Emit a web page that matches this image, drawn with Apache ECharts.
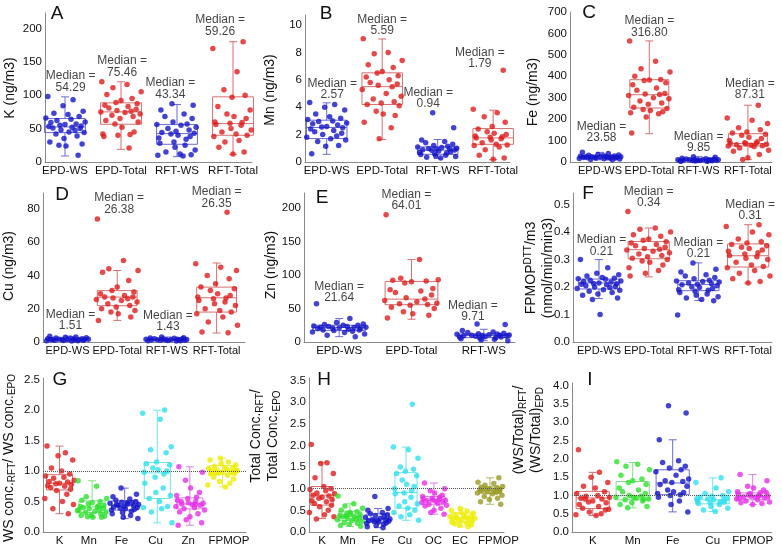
<!DOCTYPE html>
<html><head><meta charset="utf-8">
<script src="https://cdn.jsdelivr.net/npm/echarts@6/dist/echarts.min.js"></script>
<style>html,body{margin:0;padding:0;background:#fff}#c{width:782px;height:553px}</style>
</head><body><div id="c"></div>
<script>
// ---------- categories & tick labels ----------
const CAT4 = ['EPD-WS','EPD-Total','RFT-WS','RFT-Total'];
const CAT3 = ['EPD-WS','EPD-Total','RFT-WS'];
const CAT_G = ['K','Mn','Fe','Cu','Zn','FPMOP'];
const CAT_H = ['K','Mn','Fe','Cu','OC','EC','FPMOP'];
const CAT_I = ['K','Mn','Fe','Cu','FPMOP'];
const A_TICKS = [0,50,100,150,200];
const B_TICKS = [0,2,4,6,8,10];
const C_TICKS = [0,100,200,300,400,500,600,700];
const D_TICKS = [0,20,40,60,80];
const E_TICKS = [0,50,100,150,200];
const F_TICKS = [0,0.1,0.2,0.3,0.4,0.5];
const G_TICKS = [0,0.5,1,1.5,2,2.5];
const H_TICKS = [0,0.5,1,1.5,2,2.5,3,3.5];
const I_TICKS = [0,0.5,1,1.5,2,2.5,3,3.5,4];

// ---------- panel A: K ----------
const A_EPD_WS = [98,93,84,76,73,71,68,66,64,62,60,59,57,56,55,54,53,52,51,50,48,47,46,45,44,42,39,35,30,27,25,24,10];
const A_EPD_TOT = [120,116,111,105,101,95,92,89,87,85,83,81,79,77,76,75,74,72,70,68,65,62,60,57,52,45,42,41,40,38,21];
const A_RFT_WS = [87,85,78,72,68,65,60,57,56,55,52,50,48,46,44,43,42,40,38,36,34,30,28,25,22,18,15,12,11,10,9];
const A_RFT_TOT = [180,170,135,133,108,100,97,83,78,72,68,65,60,59,58,56,55,50,48,45,42,40,38,32,30,25,22,15,12];
const A_BOX = [[9,44,52.5,65,97.5],[19,56.5,75,88.5,120],[8,26.5,42.5,56,86],[11.5,40,57.5,97.5,180]];
const A_MED = ['54.29','75.46','43.34','59.26'];

// ---------- panel B: Mn ----------
const B_EPD_WS = [4.35,4.2,4.0,3.8,3.5,3.3,3.2,3.1,3.0,2.95,2.85,2.8,2.7,2.6,2.55,2.5,2.4,2.3,2.2,2.1,2.0,1.9,1.8,1.7,1.6,1.5,1.2,1.15,0.6];
const B_EPD_TOT = [9.0,8.0,7.9,7.4,7.1,6.9,6.6,6.5,6.3,6.2,6.0,5.8,5.7,5.6,5.5,5.3,5.0,4.8,4.6,4.4,4.3,4.2,4.1,3.7,3.5,3.4,2.9,2.5,1.7];
const B_RFT_WS = [3.6,2.5,1.6,1.5,1.4,1.3,1.2,1.15,1.1,1.05,1.0,0.98,0.95,0.94,0.9,0.88,0.85,0.8,0.75,0.7,0.65,0.6,0.55,0.5,0.45,0.4,0.35,0.3];
const B_RFT_TOT = [6.7,3.85,3.6,3.4,3.3,2.9,2.6,2.4,2.3,2.2,2.1,2.0,1.9,1.85,1.8,1.75,1.7,1.6,1.5,1.4,1.3,1.25,1.2,1.1,0.9,0.7,0.5,0.3,0.2];
const B_BOX = [[0.56,1.71,2.52,3.05,4.32],[1.64,4.2,5.5,6.51,8.98],[0.25,0.56,0.86,1.1,1.64],[0.17,1.29,1.76,2.44,3.78]];
const B_MED = ['2.57','5.59','0.94','1.79'];

// ---------- panel C: Fe ----------
const C_EPD_WS = [45,40,35,33,31,30,28,27,26,25,24,24,23,23,22,22,21,20,20,19,18,17,16,15,14,12,10];
const C_EPD_TOT = [565,470,435,420,400,385,383,380,370,360,345,335,320,317,315,310,300,295,285,275,270,255,250,245,240,235,230,225,210,135];
const C_RFT_WS = [25,22,18,15,14,13,12,11,11,10,10,10,9,9,8,8,7,7,6,6,5,5,4,3];
const C_RFT_TOT = [265,205,195,180,160,150,140,135,130,125,115,110,100,95,90,88,87,85,83,80,78,76,75,72,65,55,50,35,20,12];
const C_BOX = [[10,18,23.6,30,45],[132,252,314,384,565],[2,6,9.85,14,25],[11,75,86,132,265]];
const C_MED = ['23.58','316.80','9.85','87.31'];

// ---------- panel D: Cu ----------
const D_EPD_WS = [3.5,3.0,2.8,2.6,2.4,2.2,2.0,1.9,1.8,1.7,1.6,1.55,1.5,1.5,1.45,1.4,1.3,1.2,1.1,1.0,0.9,0.8,0.7,0.6];
const D_EPD_TOT = [74,49,44,43,42,37,33,31,30,29,28,27,27,26.5,26,25.5,25,24,23,22,21,20,19,18,17,15,13];
const D_RFT_WS = [3.0,2.6,2.4,2.2,2.0,1.9,1.8,1.7,1.6,1.5,1.45,1.4,1.35,1.3,1.2,1.1,1.0,0.9,0.8,0.7,0.6];
const D_RFT_TOT = [78,47,45,43,40,38,35,33,32,31,29,28,27,26.5,26,25,24,23,22,20,19,18,17,15,12,10,6,5.5];
const D_BOX = [[0.5,1.0,1.51,2.0,3.5],[13,21.8,27,30.9,43],[0.5,1.0,1.43,1.9,3.0],[5.4,18,26.6,33,47.5]];
const D_MED = ['1.51','26.38','1.43','26.35'];

// ---------- panel E: Zn ----------
const E_EPD_WS = [57,35,29,27,26,25,25,24,23,23,22,22,21.6,21,21,20,20,19,18,18,17,16,15,14,12,10,8];
const E_EPD_TOT = [190,123,95,93,92,91,90,88,80,78,76,74,70,66,64,62,60,58,57,56,55,52,50,45,42,40,36];
const E_RFT_WS = [27,26,17,15,14,13,12.5,12,11.5,11,10.5,10,10,9.7,9.5,9,8.5,8,7.5,7,6.5,6,5,4,3,2];
const E_BOX = [[8,17,21.6,25,35],[34,55.7,64,90.4,123],[2,6.5,9.7,12,19]];
const E_MED = ['21.64','64.01','9.71'];

// ---------- panel F: FPMOP DTT ----------
const F_EPD_WS = [0.30,0.27,0.25,0.245,0.24,0.235,0.232,0.23,0.228,0.225,0.222,0.22,0.218,0.215,0.213,0.212,0.21,0.208,0.205,0.202,0.2,0.198,0.195,0.19,0.188,0.185,0.18,0.175,0.17,0.16,0.155,0.10];
const F_EPD_TOT = [0.475,0.415,0.41,0.40,0.39,0.385,0.375,0.37,0.365,0.36,0.355,0.35,0.345,0.34,0.338,0.335,0.33,0.325,0.32,0.315,0.31,0.305,0.30,0.295,0.29,0.28,0.27,0.26,0.25,0.24];
const F_RFT_WS = [0.288,0.265,0.255,0.245,0.24,0.235,0.23,0.225,0.222,0.22,0.218,0.215,0.212,0.21,0.208,0.205,0.2,0.198,0.195,0.19,0.188,0.185,0.18,0.175,0.17,0.165,0.16,0.155,0.15,0.098];
const F_RFT_TOT = [0.427,0.42,0.40,0.39,0.375,0.365,0.36,0.355,0.35,0.345,0.34,0.335,0.33,0.325,0.32,0.315,0.31,0.305,0.3,0.29,0.28,0.275,0.27,0.26,0.25,0.24,0.23,0.22,0.215];
const F_BOX = [[0.158,0.193,0.215,0.229,0.30],[0.237,0.303,0.336,0.366,0.415],[0.151,0.187,0.209,0.223,0.288],[0.215,0.273,0.314,0.357,0.427]];
const F_MED = ['0.21','0.34','0.21','0.31'];

// ---------- panel G: WS ratio ----------
const G_K = [1.41,1.3,1.25,1.18,1.05,1.0,0.95,0.92,0.9,0.88,0.85,0.83,0.82,0.8,0.79,0.78,0.76,0.75,0.73,0.7,0.68,0.62,0.55,0.5,0.45,0.38,0.3];
const G_MN = [0.84,0.75,0.58,0.55,0.52,0.5,0.48,0.46,0.44,0.42,0.41,0.4,0.39,0.38,0.37,0.35,0.34,0.33,0.32,0.3,0.28,0.27,0.26,0.25,0.24,0.24,0.36,0.43];
const G_FE = [0.72,0.62,0.58,0.54,0.52,0.5,0.49,0.48,0.47,0.46,0.45,0.44,0.43,0.42,0.41,0.4,0.39,0.38,0.37,0.36,0.34,0.32,0.3,0.27,0.24,0.22,0.45,0.48];
const G_CU = [2.0,1.95,1.85,1.4,1.35,1.3,1.15,1.12,1.1,1.05,1.02,1.0,0.98,0.95,0.9,0.8,0.72,0.65,0.6,0.55,0.5,0.42,0.4,0.38,0.33,0.15];
const G_ZN = [1.07,0.98,0.85,0.72,0.65,0.6,0.57,0.55,0.52,0.5,0.48,0.47,0.46,0.45,0.44,0.42,0.4,0.38,0.36,0.33,0.3,0.25,0.2,0.15,0.11,0.45,0.5];
const G_FP = [1.21,1.18,1.15,1.12,1.1,1.08,1.06,1.05,1.04,1.03,1.02,1.01,1.0,0.99,0.98,0.97,0.96,0.95,0.93,0.9,0.87,0.83,0.8,0.77,0.74,1.0,0.97];
const G_BOX = [[0.30,0.69,0.80,0.94,1.41],[0.24,0.32,0.41,0.51,0.84],[0.22,0.36,0.43,0.51,0.72],[0.15,0.55,0.97,1.14,2.0],[0.11,0.38,0.46,0.56,1.07],[0.74,0.95,1.01,1.09,1.21]];

// ---------- panel H: Total ratio ----------
const H_K = [2.02,1.6,1.58,1.35,1.25,1.05,1.0,0.98,0.95,0.9,0.88,0.85,0.83,0.8,0.78,0.75,0.72,0.7,0.66,0.62,0.58,0.5,0.45,0.4,0.35,0.3];
const H_MN = [0.83,0.65,0.6,0.55,0.5,0.47,0.45,0.42,0.4,0.38,0.36,0.35,0.33,0.32,0.3,0.28,0.27,0.25,0.22,0.2,0.18,0.15,0.13,0.37,0.42];
const H_FE = [0.82,0.54,0.5,0.45,0.42,0.4,0.38,0.36,0.34,0.32,0.3,0.29,0.28,0.27,0.26,0.25,0.24,0.23,0.21,0.2,0.18,0.15,0.12,0.1];
const H_CU = [2.95,1.96,1.9,1.7,1.5,1.45,1.4,1.35,1.3,1.2,1.1,1.05,1.0,0.95,0.9,0.88,0.8,0.7,0.65,0.6,0.55,0.5,0.45,0.4,0.35,0.27];
const H_OC = [1.13,1.0,0.95,0.9,0.85,0.82,0.8,0.78,0.76,0.75,0.74,0.73,0.72,0.71,0.7,0.68,0.66,0.64,0.62,0.6,0.55,0.5,0.45,0.41];
const H_EC = [0.54,0.5,0.48,0.45,0.43,0.4,0.38,0.36,0.35,0.34,0.33,0.32,0.3,0.29,0.28,0.26,0.25,0.23,0.21,0.19,0.17,0.15,0.12];
const H_FP = [1.25,1.15,1.12,1.08,1.05,1.03,1.02,1.0,0.99,0.98,0.97,0.96,0.95,0.94,0.93,0.92,0.9,0.88,0.85,0.82,0.78,0.75,0.7,0.64];
const H_BOX = [[0.31,0.62,0.85,1.05,1.6],[0.13,0.27,0.36,0.48,0.65],[0.1,0.23,0.3,0.42,0.54],[0.27,0.55,0.91,1.37,1.96],[0.41,0.64,0.73,0.82,1.13],[0.12,0.23,0.33,0.44,0.54],[0.64,0.89,0.96,1.04,1.25]];

// ---------- panel I: (WS/Total) ratio ----------
const I_K = [2.25,1.63,1.5,1.35,1.25,1.2,1.1,1.05,1.0,0.98,0.95,0.92,0.9,0.85,0.82,0.8,0.75,0.7,0.65,0.6,0.55,0.5,0.47,0.45,0.62,0.9];
const I_MN = [1.92,1.85,1.8,1.7,1.55,1.45,1.4,1.35,1.3,1.2,1.15,1.1,1.05,1.0,0.98,0.95,0.92,0.9,0.88,0.85,0.8,0.75,0.7,0.66,0.95,0.9];
const I_FE = [3.45,3.25,2.52,1.95,1.9,1.8,1.75,1.7,1.65,1.55,1.45,1.4,1.38,1.35,1.3,1.25,1.15,1.1,1.08,1.05,1.02,1.0,0.95,0.85,0.75,0.55];
const I_CU = [1.48,1.35,1.2,1.1,1.05,1.0,0.98,0.95,0.92,0.9,0.88,0.87,0.85,0.83,0.8,0.78,0.75,0.7,0.65,0.6,0.56,0.82,0.9];
const I_FP = [1.57,1.4,1.25,1.2,1.15,1.1,1.07,1.05,1.03,1.0,0.98,0.97,0.96,0.95,0.93,0.9,0.88,0.85,0.82,0.8,0.78,0.75,1.02,1.08,0.92,0.99];
const I_BOX = [[0.45,0.64,0.93,1.11,1.63],[0.66,0.88,0.99,1.38,1.9],[0.55,1.02,1.34,1.70,2.52],[0.56,0.77,0.88,1.0,1.48],[0.75,0.88,0.97,1.07,1.57]];

// ---------- styles / layout ----------
const FONT = '"Liberation Sans", Arial, Helvetica, sans-serif';
const C = {
  blue:['#1414c8','#6b6bd0'], red:['#e01c1c','#d47070'], green:['#2fe02f','#80e080'],
  cyan:['#2ee0ec','#6fe4ec'], mag:['#e62ee6','#e07fe0'], yel:['#eeee00','#e8e860'], olive:['#9a9a24','#b4b468']
};
const JIT = [-0.85,0.4,-0.1,0.9,-0.55,0.15,0.7,-0.95,0.3,-0.4,1.0,-0.7,0.55,0.0,-0.25,0.8,-0.8,0.35,-0.6,0.75,-0.2,0.5,-1.0,0.2,0.95,-0.45,0.6,-0.05,-0.75,0.85,-0.3,0.05,0.65,-0.9,0.45,-0.15];

const PANELS = [
  {grid:{left:45,top:13,width:207,height:149}, xr:[-0.357,3.339], ymax:223, ticks:A_TICKS, dec:0, cats:CAT4,
   groups:[A_EPD_WS,A_EPD_TOT,A_RFT_WS,A_RFT_TOT], boxes:A_BOX, med:A_MED, cols:[C.blue,C.red,C.blue,C.red],
   boxW:0.73, spread:0.36, xfs:11.5, notes:[[0.1,120],[0.02,142.8],[-0.12,109.8],[-0.23,204]]},
  {grid:{left:305,top:15,width:205,height:147}, xr:[-0.391,3.303], ymax:10.73, ticks:B_TICKS, dec:0, cats:CAT4,
   groups:[B_EPD_WS,B_EPD_TOT,B_RFT_WS,B_RFT_TOT], boxes:B_BOX, med:B_MED, cols:[C.blue,C.red,C.blue,C.red],
   boxW:0.73, spread:0.36, xfs:11.5, notes:[[0.1,5.32],[0,10.0],[-0.17,4.64],[-0.24,7.59]]},
  {grid:{left:570,top:12,width:202,height:150}, xr:[-0.609,3.489], ymax:700, ticks:C_TICKS, dec:0, cats:CAT4,
   groups:[C_EPD_WS,C_EPD_TOT,C_RFT_WS,C_RFT_TOT], boxes:C_BOX, med:C_MED, cols:[C.blue,C.red,C.blue,C.red],
   boxW:0.79, spread:0.42, xfs:11, notes:[[0.03,138.6],[0,632],[0,92],[0.04,340]]},
  {grid:{left:43,top:193,width:202,height:149}, xr:[-0.493,3.571], ymax:89.6, ticks:D_TICKS, dec:0, cats:CAT4,
   groups:[D_EPD_WS,D_EPD_TOT,D_RFT_WS,D_RFT_TOT], boxes:D_BOX, med:D_MED, cols:[C.blue,C.red,C.blue,C.red],
   boxW:0.8, spread:0.42, xfs:11, notes:[[0.06,13.2],[0.04,83.3],[0.02,12.4],[0,86.8]]},
  {grid:{left:304,top:193,width:211,height:149}, xr:[-0.487,2.432], ymax:222.4, ticks:E_TICKS, dec:0, cats:CAT3,
   groups:[E_EPD_WS,E_EPD_TOT,E_RFT_WS], boxes:E_BOX, med:E_MED, cols:[C.blue,C.red,C.blue],
   boxW:0.73, spread:0.37, xfs:11.5, notes:[[0,74.6],[-0.07,211.6],[-0.15,46.3]]},
  {grid:{left:573,top:193,width:199,height:149}, xr:[-0.523,3.481], ymax:0.5424, ticks:F_TICKS, dec:1, cats:CAT4,
   groups:[F_EPD_WS,F_EPD_TOT,F_RFT_WS,F_RFT_TOT], boxes:F_BOX, med:F_MED, cols:[C.blue,C.red,C.blue,C.red],
   boxW:0.83, spread:0.44, xfs:11, notes:[[0.05,0.35],[0,0.528],[0,0.341],[0.04,0.48]]},
  {grid:{left:43,top:378,width:203,height:154}, xr:[-0.506,5.721], ymax:2.527, ticks:G_TICKS, dec:1, cats:CAT_G,
   labelPos:[0,0.9,1.9,2.95,3.95,5.2],
   groups:[G_K,G_MN,G_FE,G_CU,G_ZN,G_FP], boxes:G_BOX, cols:[C.red,C.green,C.blue,C.cyan,C.mag,C.yel],
   boxW:0.8, spread:0.45, xfs:11.5, ref:true},
  {grid:{left:309,top:378,width:195,height:154}, xr:[-0.464,6.5], ymax:3.554, ticks:H_TICKS, dec:1, cats:CAT_H,
   labelPos:[0,0.92,2,2.96,3.98,4.93,6.3],
   groups:[H_K,H_MN,H_FE,H_CU,H_OC,H_EC,H_FP], boxes:H_BOX, cols:[C.red,C.green,C.blue,C.cyan,C.mag,C.yel,C.olive],
   boxW:0.79, spread:0.45, xfs:11.5, ref:true},
  {grid:{left:572,top:383,width:200,height:149}, xr:[-0.518,4.483], ymax:4.073, ticks:I_TICKS, dec:1, cats:CAT_I,
   groups:[I_K,I_MN,I_FE,I_CU,I_FP], boxes:I_BOX, cols:[C.red,C.green,C.blue,C.cyan,C.mag],
   boxW:0.83, spread:0.42, xfs:11.5, ref:true}
];

function boxRender(halfW, cols) {
  return function (params, api) {
    const x = api.value(0), lo = api.value(1), q1 = api.value(2), md = api.value(3), q3 = api.value(4), hi = api.value(5);
    const c = cols[params.dataIndex][1];
    const a = api.coord([x - halfW, q3]), b = api.coord([x + halfW, q1]);
    const m = api.coord([x, md]), h = api.coord([x, hi]), l = api.coord([x, lo]);
    const xc = m[0];
    const st = {stroke: c, lineWidth: 1};
    return {type: 'group', children: [
      {type: 'rect', shape: {x: a[0], y: a[1], width: b[0] - a[0], height: b[1] - a[1]}, style: {stroke: c, fill: 'rgba(255,255,255,0)', lineWidth: 1}},
      {type: 'line', shape: {x1: a[0], y1: m[1], x2: b[0], y2: m[1]}, style: st},
      {type: 'line', shape: {x1: xc, y1: a[1], x2: xc, y2: h[1]}, style: st},
      {type: 'line', shape: {x1: xc, y1: b[1], x2: xc, y2: l[1]}, style: st},
      {type: 'line', shape: {x1: xc - 4, y1: h[1], x2: xc + 4, y2: h[1]}, style: st},
      {type: 'line', shape: {x1: xc - 4, y1: l[1], x2: xc + 4, y2: l[1]}, style: st}
    ]};
  };
}

const grids = [], xAxes = [], yAxes = [], series = [];
PANELS.forEach((p, k) => {
  grids.push(Object.assign({}, p.grid));
  const lp = p.labelPos || p.cats.map((c, i) => i);
  xAxes.push({gridIndex: k, type: 'value', min: p.xr[0], max: p.xr[1],
    axisLine: {show: true, onZero: false, lineStyle: {color: '#8a8a8a', width: 1}},
    axisTick: {show: false}, splitLine: {show: false},
    axisLabel: {customValues: lp, formatter: v => p.cats[Math.round(v)] || '',
      showMinLabel: true, showMaxLabel: true, hideOverlap: false,
      color: '#111', fontSize: p.xfs, fontFamily: FONT, margin: 3}});
  yAxes.push({gridIndex: k, type: 'value', min: 0, max: p.ymax,
    axisLine: {show: true, onZero: false, lineStyle: {color: '#8a8a8a', width: 1}},
    axisTick: {show: false}, splitLine: {show: false},
    axisLabel: {customValues: p.ticks, formatter: v => Number(v).toFixed(p.dec),
      showMinLabel: true, showMaxLabel: true,
      color: '#111', fontSize: 11.5, fontFamily: FONT, margin: 3}});
  series.push({type: 'custom', xAxisIndex: k, yAxisIndex: k, silent: true, z: 2,
    renderItem: boxRender(p.boxW / 2, p.cols), encode: {x: 0, y: [1, 2, 3, 4, 5]},
    data: p.boxes.map((b, i) => [i].concat(b))});
  p.groups.forEach((vals, g) => {
    const s = {type: 'scatter', xAxisIndex: k, yAxisIndex: k, symbol: 'circle', symbolSize: 5.5, silent: true, z: 3,
      itemStyle: {color: p.cols[g][0]},
      data: vals.map((v, i) => [g + JIT[(i + g * 7) % JIT.length] * p.spread, v])};
    if (p.ref && g === 0) {
      s.markLine = {silent: true, symbol: 'none', label: {show: false}, animation: false,
        lineStyle: {type: 'dotted', color: '#555', width: 1}, data: [{yAxis: 1}]};
    }
    series.push(s);
  });
  if (p.med) {
    series.push({type: 'scatter', xAxisIndex: k, yAxisIndex: k, symbolSize: 1, silent: true, z: 4,
      itemStyle: {color: 'rgba(0,0,0,0)'},
      label: {show: true, position: 'inside', color: '#111', fontSize: 12, lineHeight: 11.5, fontFamily: FONT},
      data: p.notes.map((n, i) => ({value: [i + n[0], n[1]], label: {formatter: 'Median =\n' + p.med[i]}}))});
  }
});

const rich = {
  n: {fontSize: 14, lineHeight: 17, fontFamily: FONT, color: '#111'},
  s: {fontSize: 10, lineHeight: 10, fontFamily: FONT, color: '#111', verticalAlign: 'bottom'},
  p: {fontSize: 10, lineHeight: 10, fontFamily: FONT, color: '#111', verticalAlign: 'top'}
};
function ytitle(x, y, text) {
  return {type: 'text', x: x, y: y, rotation: Math.PI / 2, silent: true,
    style: {text: text, rich: rich, align: 'center', verticalAlign: 'middle', fontSize: 14, fontFamily: FONT, fill: '#111'}};
}
function letter(x, y, t) {
  return {type: 'text', x: x, y: y, silent: true,
    style: {text: t, align: 'center', verticalAlign: 'middle', fontSize: 19, fontFamily: FONT, fill: '#111'}};
}
const graphic = [
  letter(57, 14, 'A'), letter(326, 14, 'B'), letter(589, 13, 'C'),
  letter(62, 195, 'D'), letter(322, 198, 'E'), letter(588, 194, 'F'),
  letter(60, 380, 'G'), letter(324, 380, 'H'), letter(590, 380, 'I'),
  ytitle(10, 88, '{n|K (ng/m3)}'),
  ytitle(270, 90, '{n|Mn (ng/m3)}'),
  ytitle(533, 92, '{n|Fe (ng/m3)}'),
  ytitle(9, 266, '{n|Cu (ng/m3)}'),
  ytitle(271, 265, '{n|Zn (ng/m3)}'),
  ytitle(540, 268, '{n|FPMOP}{p|DTT}{n|/m3}\n{n|(nmol/min/min3)}'),
  ytitle(9, 458, '{n|WS conc.}{s|RFT}{n|/ WS conc.}{s|EPO}'),
  ytitle(265, 436, '{n|Total Conc.}{s|RFT}{n|/}\n{n|Total Conc.}{s|EPO}'),
  ytitle(528, 430, '{n|(WS/Total)}{s|RFT}{n|/}\n{n|(WS/Total)}{s|EPD}')
];

const chart = echarts.init(document.getElementById('c'), null, {renderer: 'canvas'});
chart.setOption({
  animation: false, backgroundColor: '#fff',
  grid: grids, xAxis: xAxes, yAxis: yAxes, series: series, graphic: graphic
});
</script>
</body></html>
